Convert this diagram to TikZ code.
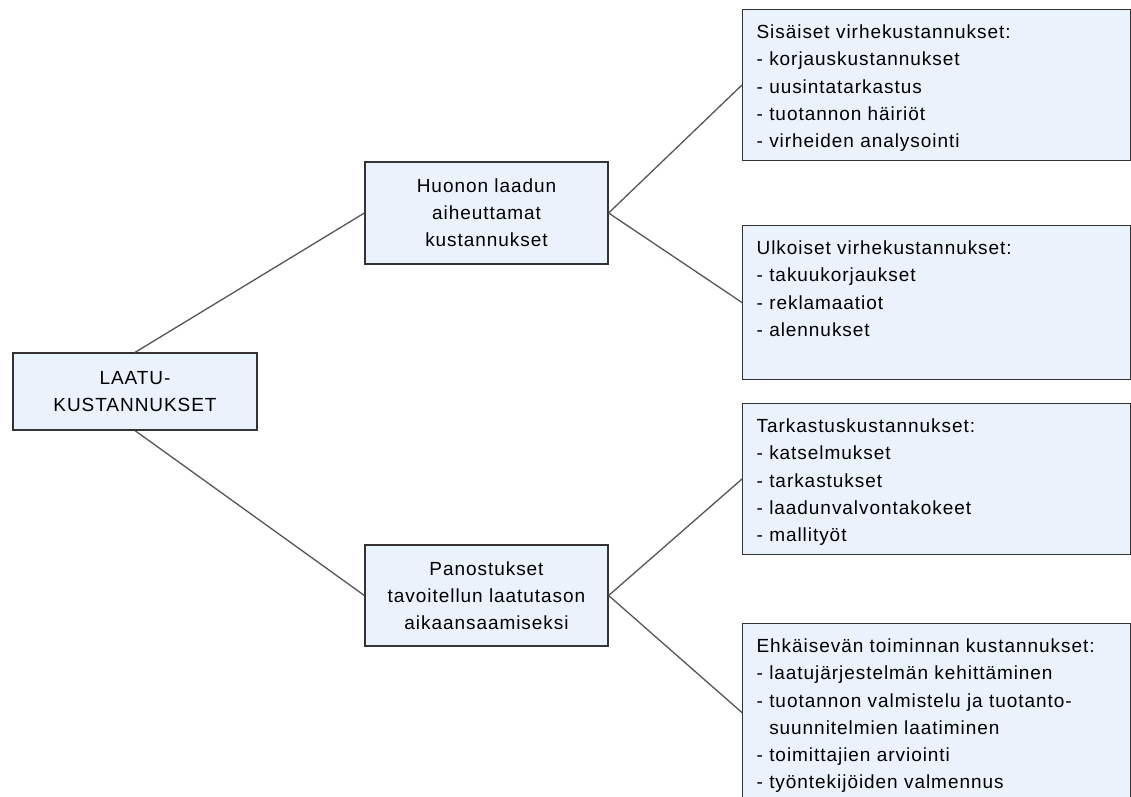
\documentclass[tikz,border=0pt]{standalone}
\usepackage{fontspec}
\setmainfont{Liberation Sans}[LetterSpace=5]
\definecolor{boxfill}{RGB}{234,242,252}
\definecolor{edge}{RGB}{85,85,85}
\tikzstyle{topic}=[rectangle, draw=black!80, fill=boxfill, line width=1.2pt, align=center, inner sep=0pt]
\tikzstyle{items}=[rectangle, draw=black!80, fill=boxfill, line width=1.2pt, anchor=north west, align=left, text width=360pt, inner xsep=14pt, inner ysep=9pt, text height=20pt]
\tikzstyle{branch}=[draw=edge, line width=1.3pt]

\begin{document}
\begin{tikzpicture}[x=1pt, y=-1pt, font=\fontsize{19}{27.2}\selectfont]
            \useasboundingbox (0,0) rectangle (1131,796);
            % root of the tree
            \node[topic, minimum width=244pt, minimum height=77pt](laatu) at (135,391.5){LAATU-\\KUSTANNUKSET};
            % the two main branches
            \node[topic, minimum width=243pt, minimum height=102pt](huono) at (486.5,213){Huonon laadun\\aiheuttamat\\kustannukset};
            \node[topic, minimum width=243pt, minimum height=101pt](panos) at (486.5,595.5){Panostukset\\tavoitellun laatutason\\aikaansaamiseksi};
            \draw[branch] (laatu.north) -- (huono.west);
            \draw[branch] (laatu.south) -- (panos.west);
            % cost lists
            \node[items](sisa) at (742,9){Sisäiset virhekustannukset:\\- korjauskustannukset\\- uusintatarkastus\\- tuotannon häiriöt\\- virheiden analysointi};
            \node[items](ulko) at (742,225){Ulkoiset virhekustannukset:\\- takuukorjaukset\\- reklamaatiot\\- alennukset\\[7pt]~};
            \node[items](tark) at (742,403){Tarkastuskustannukset:\\- katselmukset\\- tarkastukset\\- laadunvalvontakokeet\\- mallityöt};
            \node[items](ehka) at (742,623){Ehkäisevän toiminnan kustannukset:\\- laatujärjestelmän kehittäminen\\- tuotannon valmistelu ja tuotanto-\\\phantom{- }suunnitelmien laatiminen\\- toimittajien arviointi\\- työntekijöiden valmennus};
            \foreach \p/\c in {huono/sisa, huono/ulko, panos/tark, panos/ehka}{
                \draw[branch] (\p.east) -- (\c.west);
            }
        \end{tikzpicture}
\end{document}
